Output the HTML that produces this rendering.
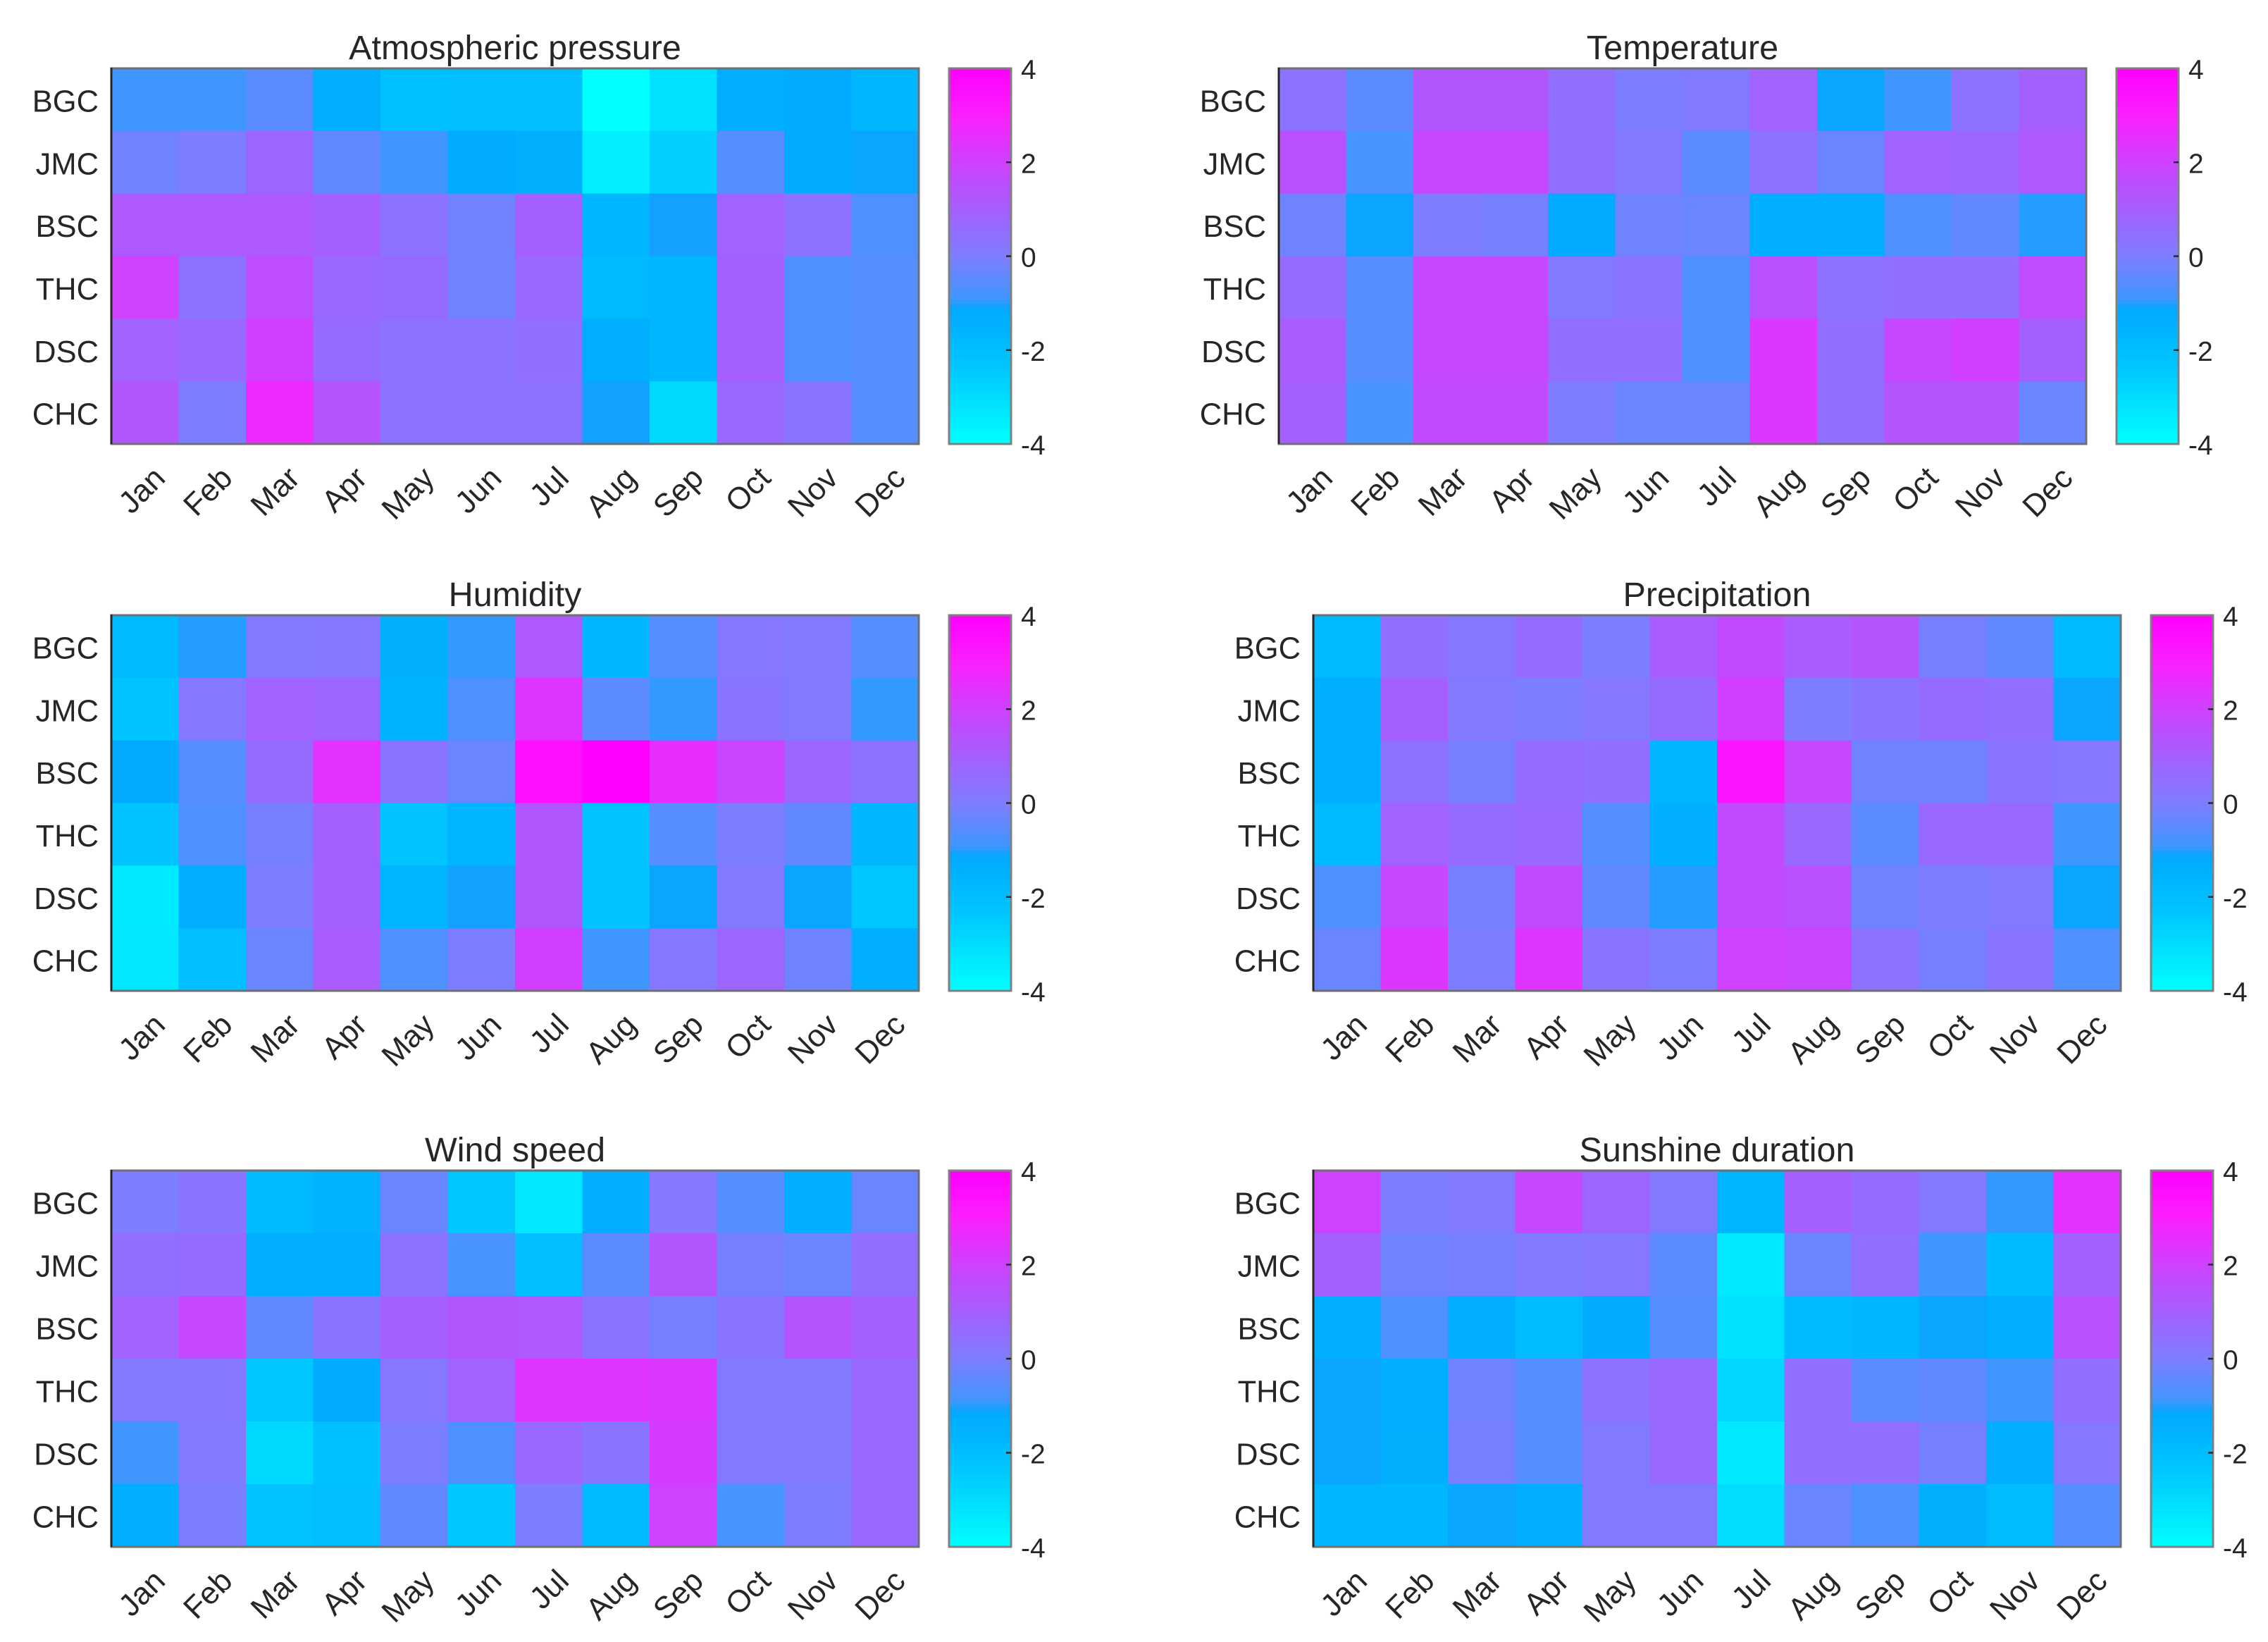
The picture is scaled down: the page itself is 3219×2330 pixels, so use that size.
<!DOCTYPE html>
<html lang="en">
<head>
<meta charset="utf-8">
<title>Monthly climate anomaly heatmaps</title>
<style>
html,body{margin:0;padding:0;background:#fff;}
body{width:3219px;height:2330px;overflow:hidden;}
svg{display:block;}
text{font-family:"Liberation Sans",sans-serif;fill:#262626;}
</style>
</head>
<body>
<svg id="chart" xmlns="http://www.w3.org/2000/svg" width="3219" height="2330" viewBox="0 0 3219 2330">
<rect width="3219" height="2330" fill="#ffffff"></rect>
</svg>
<script>
const months = ["Jan","Feb","Mar","Apr","May","Jun","Jul","Aug","Sep","Oct","Nov","Dec"];
const stations = ["BGC","JMC","BSC","THC","DSC","CHC"];
const colorbarTicks = [4,2,0,-2,-4];
const colormapLevels = [-4,-2.4,-1.15,-1.05,-0.9,0,1,2,3,4];
const colormapReds = [0,0,0,20,64,125,165,205,250,255];
const colormapGreens = [255,200,170,160,150,125,95,65,32,0];

const pressureTitle = "Atmospheric pressure";
const pressureValues = [
[-0.9,-0.9,-0.5,-1.3,-2.1,-2.0,-2.0,-4.0,-3.1,-1.3,-1.2,-1.7],
[-0.2,0.0,0.8,-0.4,-0.9,-1.2,-1.4,-3.5,-2.6,-0.6,-1.2,-1.1],
[1.2,1.2,1.2,1.0,0.4,-0.2,1.0,-1.7,-1.05,0.9,0.4,-0.7],
[2.0,0.4,1.6,0.7,0.6,-0.2,0.7,-1.8,-1.7,1.0,-0.7,-0.6],
[0.9,0.7,2.1,0.6,0.4,0.4,0.5,-1.3,-1.7,1.0,-0.7,-0.6],
[1.3,0.0,2.7,1.4,0.4,0.4,0.4,-1.05,-2.9,0.7,0.3,-0.6]];

const temperatureTitle = "Temperature";
const temperatureValues = [
[0.4,-0.5,1.3,1.3,0.5,0.0,0.1,0.9,-1.1,-0.9,0.4,1.0],
[1.5,-0.8,1.8,1.8,0.5,0.1,-0.5,0.4,-0.3,0.9,0.8,1.2],
[-0.2,-1.1,0.0,-0.1,-1.15,-0.2,-0.3,-1.3,-1.3,-0.7,-0.4,-1.0],
[0.6,-0.6,1.8,1.8,0.1,0.3,-0.7,1.5,0.4,0.5,0.5,1.6],
[1.1,-0.6,1.8,1.8,0.5,0.5,-0.7,2.3,0.5,1.8,2.1,1.0],
[1.0,-0.8,1.7,1.7,0.0,-0.3,-0.3,2.3,0.5,1.4,1.4,-0.3]];

const humidityTitle = "Humidity";
const humidityValues = [
[-1.8,-1.0,0.1,0.2,-1.4,-0.95,1.2,-1.7,-0.6,0.2,0.1,-0.6],
[-2.2,0.2,0.9,0.8,-1.5,-0.7,2.4,-0.5,-0.95,0.3,0.1,-0.95],
[-1.2,-0.6,0.6,2.5,0.3,-0.3,3.5,4.0,2.6,1.9,0.8,0.4],
[-2.2,-0.7,-0.1,1.0,-2.2,-1.6,1.3,-2.2,-0.6,0.0,-0.4,-1.7],
[-3.4,-1.3,0.0,1.0,-1.6,-1.05,1.3,-2.2,-1.1,0.1,-1.1,-2.3],
[-3.3,-2.0,-0.3,1.1,-0.7,0.0,2.1,-0.9,0.2,0.8,-0.2,-1.3]];

const precipitationTitle = "Precipitation";
const precipitationValues = [
[-1.8,0.5,0.2,0.6,0.0,1.1,1.7,1.1,1.4,-0.1,-0.4,-1.8],
[-1.3,1.0,0.1,0.0,0.2,0.6,2.1,0.0,0.3,0.6,0.5,-1.1],
[-1.3,0.4,-0.1,0.6,0.5,-1.7,3.3,1.8,-0.2,-0.2,0.3,0.2],
[-1.8,0.9,0.6,0.7,-0.6,-1.3,1.7,0.7,-0.5,0.7,0.7,-0.9],
[-0.7,1.8,-0.1,1.7,-0.4,-1.0,1.7,1.5,-0.2,0.0,0.1,-1.1],
[-0.3,2.3,0.0,2.4,0.3,0.0,2.0,1.9,0.4,-0.1,0.3,-0.7]];

const windTitle = "Wind speed";
const windValues = [
[0.0,0.3,-1.8,-1.5,-0.3,-2.3,-3.3,-1.3,0.2,-0.6,-1.3,-0.3],
[0.5,0.6,-1.3,-1.3,0.4,-0.8,-2.0,-0.5,1.3,-0.1,-0.3,0.5],
[0.9,1.8,-0.4,0.3,1.0,1.3,1.2,0.3,-0.1,0.3,1.4,1.0],
[0.1,0.2,-2.4,-1.2,0.2,0.9,2.4,2.4,2.3,0.1,0.1,0.7],
[-0.9,0.1,-2.9,-2.1,0.0,-0.7,0.7,0.3,2.2,0.1,0.1,0.7],
[-1.3,0.0,-2.2,-2.0,-0.4,-2.4,0.0,-1.8,2.0,-0.8,0.0,0.7]];

const sunshineTitle = "Sunshine duration";
const sunshineValues = [
[2.0,0.0,0.1,1.8,0.8,0.1,-1.6,1.0,0.6,0.1,-0.95,2.5],
[1.0,-0.2,-0.1,0.1,0.2,-0.5,-3.4,-0.3,0.5,-0.9,-1.8,1.0],
[-1.3,-0.7,-1.3,-1.9,-1.2,-0.6,-3.1,-1.8,-1.7,-1.1,-1.3,1.5],
[-1.1,-1.3,-0.2,-0.6,0.4,0.7,-2.8,0.5,-0.5,-0.4,-0.9,0.5],
[-1.1,-1.4,-0.1,-0.6,0.1,0.7,-3.4,0.5,0.5,-0.1,-1.3,0.2],
[-1.7,-1.7,-1.1,-1.3,0.1,0.1,-3.0,-0.3,-0.7,-1.4,-1.9,-0.6]];

const NS = "http://www.w3.org/2000/svg";
const svg = document.getElementById("chart");

function make(parent, tag, props, text) {
  const el = document.createElementNS(NS, tag);
  for (const k in props) el.setAttribute(k, props[k]);
  if (text !== undefined) el.textContent = text;
  parent.appendChild(el);
  return el;
}

function colorOf(v) {
  const c = Math.max(colormapLevels[0], Math.min(colormapLevels[colormapLevels.length - 1], v));
  let i = 0;
  while (i < colormapLevels.length - 2 && c > colormapLevels[i + 1]) i++;
  const t = (c - colormapLevels[i]) / (colormapLevels[i + 1] - colormapLevels[i]);
  const r = Math.round(colormapReds[i] + t * (colormapReds[i + 1] - colormapReds[i]));
  const g = Math.round(colormapGreens[i] + t * (colormapGreens[i + 1] - colormapGreens[i]));
  return "rgb(" + r + "," + g + ",255)";
}

function drawPanel(slug, title, values, left, right, top, bottom, barLeft, barRight) {
  const group = make(svg, "g", {});
  
  

  const xScale = function (col) { return left + (right - left) * col / months.length; };
  const yScale = function (row) { return top + (bottom - top) * row / stations.length; };
  const barScale = function (v) { return bottom - (v + 4) / 8 * (bottom - top); };

  const heading = make(group, "text", {x: (left + right) / 2, y: top - 13, "text-anchor": "middle", "font-size": 48.5}, title);
  
  

  values.forEach(function (rowValues, r) {
    rowValues.forEach(function (v, c) {
      const cell = make(group, "rect", {
        x: xScale(c), y: yScale(r),
        width: xScale(c + 1) - xScale(c) + 0.6,
        height: yScale(r + 1) - yScale(r) + 0.6,
        fill: colorOf(v)
      });
      
      
    });
  });

  const frame = make(group, "rect", {x: left, y: top, width: right - left, height: bottom - top, fill: "none", stroke: "#707070", "stroke-width": 3});
  
  
  const yAxisLine = make(group, "line", {x1: left, x2: left, y1: top - 1, y2: bottom, stroke: "#262626", "stroke-width": 3});
  
  

  stations.forEach(function (s, r) {
    const label = make(group, "text", {x: left - 18, y: (yScale(r) + yScale(r + 1)) / 2 + 17, "text-anchor": "end", "font-size": 43.5}, s);
    
    
  });

  months.forEach(function (m, c) {
    const ax = (xScale(c) + xScale(c + 1)) / 2 + 31;
    const ay = bottom + 51;
    const label = make(group, "text", {x: ax, y: ay, "text-anchor": "end", "font-size": 44, transform: "rotate(-45 " + ax + " " + ay + ")"}, m);
    
    
  });

  const bar = make(group, "g", {});
  
  
  const steps = 96;
  for (let i = 0; i < steps; i++) {
    const low = -4 + 8 * i / steps;
    const high = -4 + 8 * (i + 1) / steps;
    const strip = make(bar, "rect", {x: barLeft, y: barScale(high), width: barRight - barLeft, height: barScale(low) - barScale(high) + 0.6, fill: colorOf((low + high) / 2)});
    
    
  }
  const barFrame = make(bar, "rect", {x: barLeft, y: top, width: barRight - barLeft, height: bottom - top, fill: "none", stroke: "#808080", "stroke-width": 3});
  
  

  colorbarTicks.forEach(function (t) {
    const y = barScale(t);
    if (t !== 4 && t !== -4) {
      const tick = make(bar, "line", {x1: barRight - 7, x2: barRight, y1: y, y2: y, stroke: "#262626", "stroke-width": 2.5});
      
      
    }
    const label = make(bar, "text", {x: barRight + 14, y: y + 15, "font-size": 39}, String(t));
    
    
  });
}

drawPanel("pressure", pressureTitle, pressureValues, 158, 1304, 97, 630, 1347, 1435);
drawPanel("temperature", temperatureTitle, temperatureValues, 1815, 2961, 97, 630, 3004, 3092);
drawPanel("humidity", humidityTitle, humidityValues, 158, 1304, 873, 1406, 1347, 1435);
drawPanel("precipitation", precipitationTitle, precipitationValues, 1864, 3010, 873, 1406, 3053, 3141);
drawPanel("wind", windTitle, windValues, 158, 1304, 1661, 2195, 1347, 1435);
drawPanel("sunshine", sunshineTitle, sunshineValues, 1864, 3010, 1661, 2195, 3053, 3141);
</script>
</body>
</html>
